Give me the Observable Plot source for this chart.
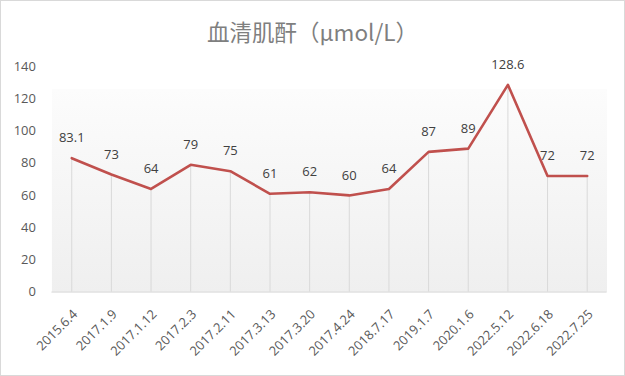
<!DOCTYPE html>
<html>
<head>
<meta charset="utf-8">
<script src="https://cdn.jsdelivr.net/npm/d3@7"></script>
<script src="https://cdn.jsdelivr.net/npm/@observablehq/plot@0.6"></script>
<style>
  html, body { margin: 0; padding: 0; background: #fff; }
  #wrap { position: relative; width: 625px; height: 376px; box-sizing: border-box; border: 1px solid #d9d9d9; overflow: hidden; }
  #title { position: absolute; left: 0; top: 0; width: 623px; height: 50px; text-align: center; line-height: 60px;
           font-family: "Noto Sans CJK SC", "Open Sans", sans-serif; font-size: 22.5px; color: #7f7f7f; }
  #chart { position: absolute; left: -1px; top: 49px; }
</style>
</head>
<body>
<div id="wrap">
  <div id="title">血清肌酐（μmol/L）</div>
  <div id="chart"></div>
</div>
<script>
const dates = ["2015.6.4","2017.1.9","2017.1.12","2017.2.3","2017.2.11","2017.3.13","2017.3.20","2017.4.24","2018.7.17","2019.1.7","2020.1.6","2022.5.12","2022.6.18","2022.7.25"];
const values = [83.1, 73, 64, 79, 75, 61, 62, 60, 64, 87, 89, 128.6, 72, 72];
const yTicks = [0, 20, 40, 60, 80, 100, 120, 140];

const data = dates.map((d, i) => ({date: d, value: values[i]}));

const chart = Plot.plot({
  width: 625,
  height: 327,
  marginTop: 16,
  marginBottom: 85,
  marginLeft: 51.5,
  marginRight: 17.5,
  style: {fontFamily: "'Open Sans', 'Noto Sans', sans-serif", fontSize: "13px", color: "#595959", background: "transparent"},
  x: {type: "point", domain: dates, padding: 0.5, round: false, label: null},
  y: {domain: [0, 140], ticks: yTicks, label: null},
  marks: [
    Plot.frame({fill: "url(#bgGrad)", stroke: "none"}),
    Plot.ruleX(data, {x: "date", y1: 0, y2: "value", stroke: "#d9d9d9", strokeWidth: 1}),
    Plot.ruleY([0], {stroke: "#d9d9d9", strokeWidth: 1}),
    Plot.axisY({ticks: yTicks, tickSize: 0, tickPadding: 16, fontSize: 13, fill: "#595959"}),
    Plot.axisX({tickSize: 0, tickRotate: -45, tickPadding: 20, dx: 3.5, fontSize: 13, fill: "#595959"}),
    Plot.line(data, {x: "date", y: "value", stroke: "#C0504D", strokeWidth: 2.6, strokeLinejoin: "round"}),
    Plot.text(data, {x: "date", y: "value", text: d => String(d.value), dy: -20, lineAnchor: "middle", fontSize: 13, fill: "#404040"})
  ]
});

const ns = "http://www.w3.org/2000/svg";
const defs = document.createElementNS(ns, "defs");
defs.innerHTML = `<linearGradient id="bgGrad" x1="0" y1="0" x2="0" y2="1">
  <stop offset="0" stop-color="#ffffff"/>
  <stop offset="0.1" stop-color="#ffffff"/>
  <stop offset="0.1" stop-color="#fcfcfc"/>
  <stop offset="1" stop-color="#efefef"/>
</linearGradient>`;
chart.insertBefore(defs, chart.firstChild);
document.getElementById("chart").appendChild(chart);
</script>
</body>
</html>
